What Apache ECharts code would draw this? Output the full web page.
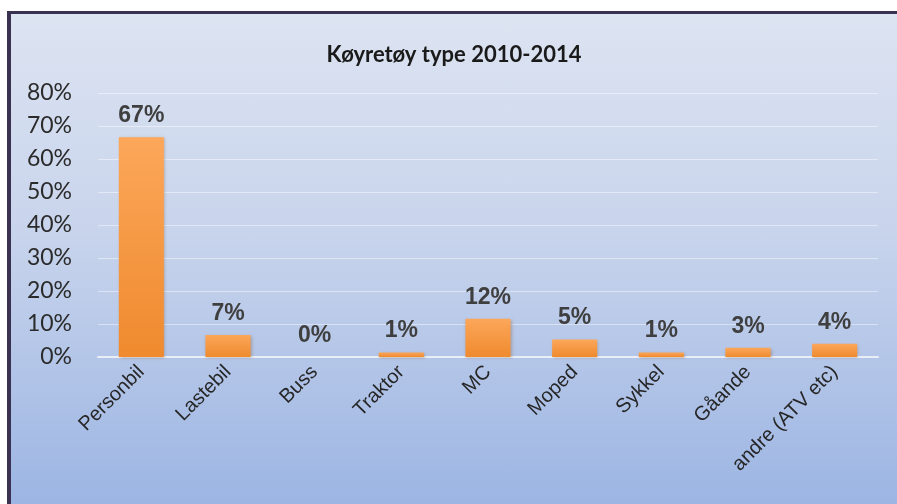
<!DOCTYPE html>
<html>
<head>
<meta charset="utf-8">
<script src="https://cdn.jsdelivr.net/npm/echarts@6/dist/echarts.min.js"></script>
<style>
	html, body { margin: 0; padding: 0; background: #ffffff; }
	#frame {
		position: absolute;
		left: 7px;
		top: 11px;
		width: 890px;
		height: 493px;
		border-top: 3px solid #3b3150;
		border-left: 4px solid #3b3150;
		box-sizing: border-box;
		background: linear-gradient(to bottom, #dde4f2 0%, #c8d4ec 45%, #9cb5e3 100%);
	}
	#myChart { position: absolute; left: 0; top: 0; width: 886px; height: 490px; }
</style>
</head>
<body>
<div id="frame"><div id="myChart"></div></div>
<script>
// kategoriar og verdiar (prosent), lest av biletet
const categories = ["Personbil", "Lastebil", "Buss", "Traktor", "MC", "Moped", "Sykkel", "Gåande", "andre (ATV etc)"];
const shares = [66.6, 6.7, 0, 1.4, 11.6, 5.3, 1.4, 2.8, 4.0];
const yTicks = [0, 10, 20, 30, 40, 50, 60, 70, 80];

const myChart = echarts.init(document.getElementById("myChart"));
myChart.setOption({
	animation: false,
	backgroundColor: "transparent",
	title: {
		text: "Køyretøy type 2010-2014",
		left: "center",
		top: 25,
		textStyle: {
			fontFamily: "Lato",
			fontSize: 22,
			fontWeight: "bold",
			color: "#1a1a1a",
		},
	},
	grid: {
		left: 87,
		right: 19,
		top: 79,
		bottom: 147,
	},
	xAxis: {
		type: "category",
		data: categories,
		axisLine: { show: true, lineStyle: { color: "#e9edf5", width: 2 } },
		axisTick: { show: false },
		axisLabel: {
			rotate: 45,
			margin: 12,
			interval: 0,
			fontFamily: "Liberation Sans",
			fontSize: 20,
			color: "#262626",
		},
	},
	yAxis: {
		type: "value",
		min: yTicks[0],
		max: yTicks[yTicks.length - 1],
		interval: 10,
		axisLine: { show: false },
		axisTick: { show: false },
		splitLine: { lineStyle: { color: "rgba(255,255,255,0.45)", width: 1 } },
		axisLabel: {
			margin: 26,
			fontFamily: "Lato",
			fontSize: 23,
			color: "#2b2b2b",
			formatter: "{value}%",
		},
	},
	series: [
		{
			type: "bar",
			data: shares,
			barWidth: "52%",
			itemStyle: {
				color: new echarts.graphic.LinearGradient(0, 0, 0, 1, [
					{ offset: 0, color: "#fca75a" },
					{ offset: 1, color: "#ef8a2e" },
				]),
				shadowColor: "rgba(120,80,40,0.35)",
				shadowBlur: 3,
				shadowOffsetX: 1,
				shadowOffsetY: 1,
			},
			label: {
				show: true,
				position: "top",
				distance: 10,
				fontFamily: "Liberation Sans",
				fontSize: 23,
				fontWeight: "bold",
				color: "#3f3f3f",
				formatter: (p) => Math.round(p.value) + "%",
			},
		},
	],
});
</script>
</body>
</html>
